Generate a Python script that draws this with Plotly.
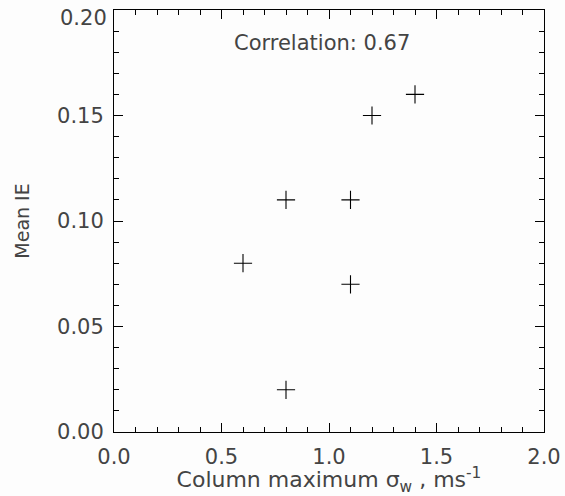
import plotly.graph_objects as go

x_sigma = [0.6, 0.8, 0.8, 1.1, 1.1, 1.2, 1.4]
mean_ie = [0.08, 0.11, 0.02, 0.11, 0.07, 0.15, 0.16]
x_ticks = [0.0, 0.5, 1.0, 1.5, 2.0]
x_labels = ["0.0", "0.5", "1.0", "1.5", "2.0"]
y_ticks = [0.00, 0.05, 0.10, 0.15, 0.20]
y_labels = ["0.00", "0.05", "0.10", "0.15", "0.20"]
corr_text = "Correlation: 0.67"

FONT = "DejaVu Sans"
TXT = "#444444"

fig = go.Figure()
fig.add_trace(go.Scatter(
    x=x_sigma, y=mean_ie, mode="markers",
    marker=dict(symbol="cross-thin", size=13, line=dict(color="black", width=1.1)),
    showlegend=False, cliponaxis=False, hoverinfo="skip",
))

axis_common = dict(
    showgrid=False, zeroline=False, showline=True, linecolor="black", linewidth=1,
    mirror="allticks", ticks="inside", ticklen=9, tickwidth=1, tickcolor="black",
    tickfont=dict(family=FONT, size=21, color=TXT), automargin=False,
    ticklabeloverflow="allow",
)

fig.update_xaxes(
    range=[0, 2.0], tickvals=x_ticks, ticktext=x_labels,
    minor=dict(dtick=0.1, ticks="inside", ticklen=5, tickwidth=1, tickcolor="black", showgrid=False),
    title=dict(text="Column maximum σ<sub>w</sub> , ms<sup>-1</sup>", font=dict(family=FONT, size=22, color=TXT), standoff=0),
    ticklabelstandoff=6,
    **axis_common,
)
# top tick label (0.20) is drawn slightly below its tick, as in the reference
fig.update_yaxes(
    range=[0, 0.2], tickvals=y_ticks[:-1], ticktext=y_labels[:-1],
    minor=dict(dtick=0.01, ticks="inside", ticklen=5, tickwidth=1, tickcolor="black", showgrid=False),
    title=dict(text="Mean IE", font=dict(family=FONT, size=19, color=TXT), standoff=22),
    ticklabelstandoff=5,
    **axis_common,
)
fig.add_annotation(
    x=0, xref="paper", y=y_ticks[-1], yref="y", text=y_labels[-1], showarrow=False,
    xanchor="right", yanchor="middle", xshift=-5, yshift=-8,
    font=dict(family=FONT, size=21, color=TXT),
)

fig.add_annotation(
    x=0.967, y=0.1844, xref="x", yref="y", text=corr_text, showarrow=False,
    font=dict(family=FONT, size=21, color=TXT),
)

fig.update_layout(
    width=565, height=496,
    margin=dict(l=114, r=21, t=10, b=64),
    paper_bgcolor="#fdfdfd", plot_bgcolor="#fdfdfd",
)

fig.write_html("out.html", config={"displayModeBar": False},
               post_script="document.body.style.margin='0';")
